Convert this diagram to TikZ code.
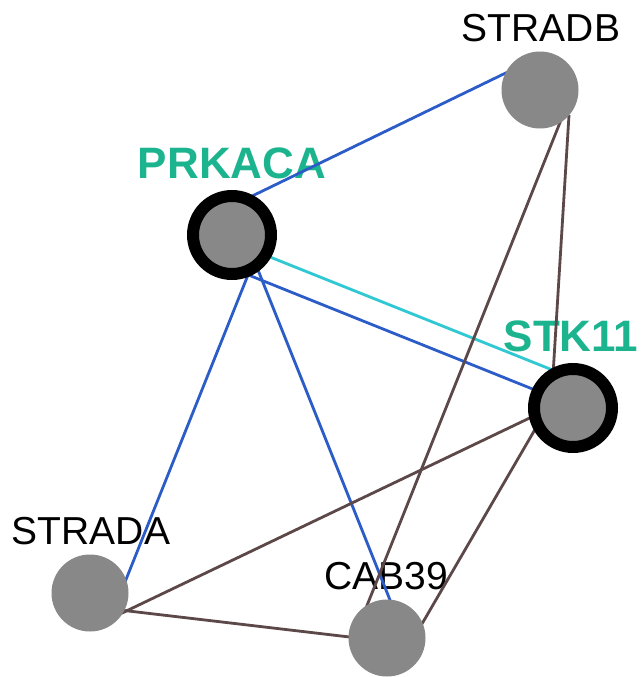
\documentclass[tikz,border=0pt]{standalone}
\usepackage{fontspec}
\setmainfont{Liberation Sans}
\definecolor{nodegray}{RGB}{136,136,136}
\definecolor{edgeblue}{RGB}{44,92,200}
\definecolor{edgecyan}{RGB}{48,200,210}
\definecolor{edgebrown}{RGB}{92,72,72}
\definecolor{hubteal}{RGB}{28,180,142}
\pgfdeclarelayer{labels}
\pgfdeclarelayer{edges}
\pgfsetlayers{labels,edges,main}
\begin{document}
\begin{tikzpicture}[x=1pt,y=-1pt,
  plainnode/.style={circle,fill=nodegray,minimum size=77pt,inner sep=0pt},
  hubnode/.style={circle,fill=nodegray,draw=black,line width=12pt,minimum size=78pt,inner sep=0pt},
  plainlbl/.style={font=\fontsize{39}{40}\selectfont,text=black,inner sep=0pt},
  hublbl/.style={font=\fontsize{44}{45}\selectfont\bfseries,text=hubteal,inner sep=0pt},
  blueedge/.style={draw=edgeblue,line width=2.8pt},
  cyanedge/.style={draw=edgecyan,line width=2.8pt},
  brownedge/.style={draw=edgebrown,line width=2.8pt}]
\useasboundingbox (0,0) rectangle (640,677);
% nodes
\node[hubnode] (prkaca) at (232,235) {};
\node[plainnode] (stradb) at (540,90) {};
\node[hubnode] (stk11) at (573,408) {};
\node[plainnode] (strada) at (90,593) {};
\node[plainnode] (cab39) at (387,638) {};
% labels
\begin{pgfonlayer}{labels}
\node[plainlbl] (lstradb) at (541,28) {STRADB};
\node[hublbl] (lprkaca) at (232,163.5) {PRKACA};
\node[hublbl] (lstk11) at (571,336) {STK11};
\node[plainlbl] (lstrada) at (91,531.5) {STRADA};
\node[plainlbl] (lcab39) at (386.5,576.5) {CAB39};
\end{pgfonlayer}
% edges
\begin{pgfonlayer}{edges}
\draw[blueedge] ([shift={(14,-36)}]prkaca.center) -- ([shift={(-24,-22)}]stradb.center);
\draw[cyanedge] ([shift={(33,20)}]prkaca.center) -- ([shift={(-18,-37)}]stk11.center);
\draw[blueedge] ([shift={(14,39)}]prkaca.center) -- ([shift={(-33,-16)}]stk11.center);
\draw[blueedge] ([shift={(18,35)}]prkaca.center) -- ([shift={(31,-1)}]strada.center);
\draw[blueedge] ([shift={(26,35)}]prkaca.center) -- ([shift={(5,-33)}]cab39.center);
\draw[brownedge] ([shift={(21,30)}]stradb.center) -- ([shift={(-21,-30)}]cab39.center);
\draw[brownedge] ([shift={(29,25)}]stradb.center) -- ([shift={(-20,-33)}]stk11.center);
\draw[brownedge] ([shift={(-35,6)}]stk11.center) -- ([shift={(30,21)}]strada.center);
\draw[brownedge] ([shift={(-36,18)}]stk11.center) -- ([shift={(32,-9)}]cab39.center);
\draw[brownedge] ([shift={(30,17)}]strada.center) -- ([shift={(-29,0)}]cab39.center);
\end{pgfonlayer}
\end{tikzpicture}
\end{document}
